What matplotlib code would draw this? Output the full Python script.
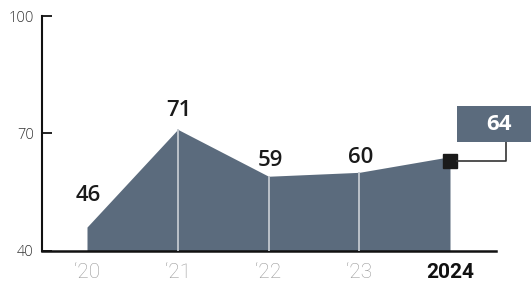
import matplotlib
matplotlib.use("Agg")
import matplotlib.pyplot as plt
from matplotlib.patches import Rectangle
from matplotlib.lines import Line2D

years = ["\u201820", "\u201821", "\u201822", "\u201823", "2024"]
values = [46, 71, 59, 60, 64]
yticks = [40, 70, 100]

W, H = 531, 285
fig = plt.figure(figsize=(W / 100, H / 100), dpi=100)
ax_l, ax_r, ax_t, ax_b = 42, 496, 16, 250.5
ax = fig.add_axes([ax_l / W, 1 - ax_b / H, (ax_r - ax_l) / W, (ax_b - ax_t) / H])

x = list(range(len(values)))
px0, px4 = 87, 450
ppu = (px4 - px0) / 4
ax.set_xlim((ax_l - px0) / ppu, (ax_r - px0) / ppu)
ax.set_ylim(40, 100)

fill_c = "#5b6b7d"
ax.fill_between(x, 40, values, color=fill_c, linewidth=0, zorder=2)
for xi, v in zip(x[1:-1], values[1:-1]):
    ax.plot([xi, xi], [40, v], color="#c3c9cf", lw=1.3, zorder=3, solid_capstyle="butt")

lab_font = "Open Sans"
label_off = [15, 6, 4, 3]
for xi, v, off in zip(x[:-1], values[:-1], label_off):
    ax.annotate(str(v), (xi, v), xytext=(1, off), textcoords="offset points",
                ha="center", va="bottom", fontsize=16, fontweight="semibold",
                family=lab_font, color="#1a1a1a", zorder=5)

lx, lv = x[-1], values[-1]
ax.plot([lx], [lv - 1], marker="s", markersize=10, color="#1a1a1a", zorder=6, clip_on=False)

bx0, bx1, by0, by1 = 457, 531, 106, 142
def fx(p): return p / W
def fy(p): return 1 - p / H
fig.patches.append(Rectangle((fx(bx0), fy(by1)), fx(bx1) - fx(bx0), fy(by0) - fy(by1),
                             transform=fig.transFigure, facecolor=fill_c, edgecolor="none", zorder=5))
fig.text(fx(499), fy(124), str(lv), ha="center", va="center", fontsize=16,
         fontweight="bold", family=lab_font, color="white", zorder=6)
conn_y = 160.7
fig.lines.append(Line2D([fx(457), fx(506), fx(506)], [fy(conn_y), fy(conn_y), fy(by1)],
                        transform=fig.transFigure, color="#333333", lw=1.2, zorder=4))

for s in ["top", "right"]:
    ax.spines[s].set_visible(False)
ax.spines["left"].set_linewidth(1.5)
ax.spines["bottom"].set_linewidth(1.8)
ax.spines["left"].set_color("#111111")
ax.spines["bottom"].set_color("#111111")
ax.set_yticks(yticks)
ax.set_yticklabels([str(t) for t in yticks], fontsize=10.5, fontweight="light",
                   color="#333333", family="Open Sans")
ax.tick_params(axis="y", direction="in", length=7.5, width=1.3, color="#111111", pad=6)
ax.set_xticks(x)
ax.set_xticklabels(years, fontsize=15, family="Roboto")
ax.tick_params(axis="x", length=0, pad=9)
for i, lab in enumerate(ax.get_xticklabels()):
    if i == len(years) - 1:
        lab.set_fontweight("bold")
        lab.set_color("#111111")
    else:
        lab.set_fontweight("light")
        lab.set_color("#9a9a9a")

fig.savefig("out.png", dpi=100)
